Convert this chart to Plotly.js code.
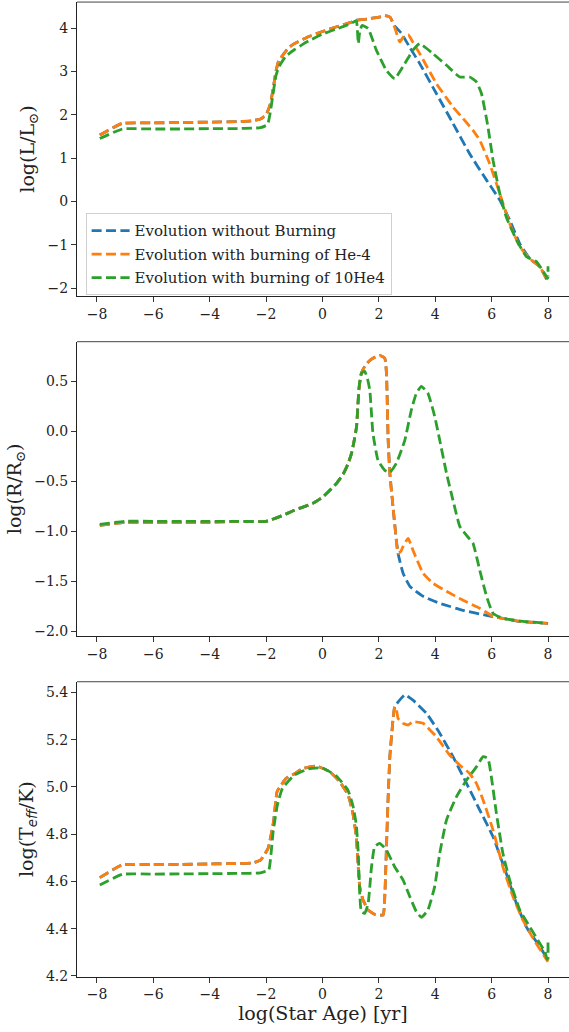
<!DOCTYPE html>
<html><head><meta charset="utf-8">
<script src="https://cdn.plot.ly/plotly-3.0.1.min.js"></script>
<style>html,body{margin:0;padding:0;background:#fff}#chart{width:569px;height:1032px}</style>
</head><body><div id="chart"></div>
<script>
// ---------- data ----------
const seriesNames = ["Evolution without Burning", "Evolution with burning of He-4", "Evolution with burning of 10He4"];
const seriesColors = ["#1f77b4", "#ff7f0e", "#2ca02c"];

// Panel 1: log(L/Lsun)
const lumAgeBlue = [-7.9,-7.1,-6,-5,-4,-3,-2.5,-2.2,-2.0,-1.85,-1.75,-1.65,-1.55,-1.4,-1.2,-1.0,-0.5,0,0.5,1.0,1.2,1.6,2.0,2.21,2.4,2.56,2.8,3.1,3.45,4.04,4.63,5.22,5.82,6.29,6.64,7.0,7.35,7.71,8.0];
const lumBlue    = [1.53,1.80,1.81,1.82,1.83,1.84,1.86,1.90,2.00,2.25,2.60,3.00,3.25,3.38,3.55,3.64,3.80,3.92,4.03,4.13,4.18,4.21,4.25,4.29,4.25,4.05,3.88,3.55,3.18,2.49,1.80,1.10,0.49,0.03,-0.43,-0.98,-1.32,-1.51,-1.86];
const lumAgeOrange = [-7.9,-7.1,-6,-5,-4,-3,-2.5,-2.2,-2.0,-1.85,-1.75,-1.65,-1.55,-1.4,-1.2,-1.0,-0.5,0,0.5,1.0,1.2,1.6,2.0,2.21,2.4,2.56,2.74,2.9,3.05,3.2,3.45,4.04,4.63,4.99,5.34,5.58,5.93,6.29,6.64,7.0,7.35,7.71,8.0];
const lumOrange    = [1.53,1.80,1.81,1.82,1.83,1.84,1.86,1.90,2.00,2.25,2.60,3.00,3.25,3.38,3.55,3.64,3.80,3.92,4.03,4.13,4.18,4.21,4.25,4.29,4.25,4.02,3.68,3.82,3.84,3.68,3.41,2.72,2.18,1.91,1.64,1.41,0.87,0.18,-0.51,-1.05,-1.32,-1.51,-1.86];
const lumAgeGreen = [-7.9,-7.1,-6,-5,-4,-3,-2.5,-2.2,-1.95,-1.86,-1.76,-1.65,-1.55,-1.3,-1.0,-0.5,0,0.5,1.0,1.2,1.24,1.27,1.32,1.4,1.62,1.91,2.27,2.56,2.92,3.21,3.45,3.92,4.4,4.87,5.22,5.46,5.64,5.87,6.05,6.29,6.52,6.88,7.24,7.59,7.83,7.94,7.98,8.0,8.0,8.0];
const lumGreen    = [1.45,1.67,1.67,1.67,1.68,1.68,1.69,1.70,1.77,2.02,2.45,2.9,3.1,3.35,3.5,3.7,3.86,3.98,4.1,4.17,3.95,3.64,3.9,4.06,3.99,3.49,3.02,2.83,3.18,3.49,3.64,3.41,3.14,2.87,2.87,2.76,2.49,1.72,0.95,0.18,-0.36,-0.89,-1.28,-1.39,-1.62,-1.73,-1.78,-1.74,-1.50,-1.72];

// Panel 2: log(R/Rsun)
const radAgeBlue = [-7.9,-7.0,-6,-5,-4,-3,-2.0,-1.4,-1.0,-0.34,0,0.26,0.5,0.73,0.9,1.03,1.12,1.21,1.29,1.38,1.5,1.65,1.79,2.03,2.21,2.27,2.33,2.39,2.5,2.62,2.68,2.86,3.1,3.57,4.16,4.99,5.82,6.17,7.0,8.0];
const radBlue    = [-0.94,-0.91,-0.91,-0.91,-0.91,-0.90,-0.90,-0.84,-0.79,-0.72,-0.66,-0.59,-0.52,-0.43,-0.33,-0.22,-0.1,0.05,0.41,0.58,0.65,0.70,0.73,0.76,0.73,0.58,-0.09,-0.42,-0.75,-1.09,-1.22,-1.42,-1.55,-1.65,-1.72,-1.79,-1.84,-1.86,-1.90,-1.92];
const radAgeOrange = [-7.9,-7.0,-6,-5,-4,-3,-2.0,-1.4,-1.0,-0.34,0,0.26,0.5,0.73,0.9,1.03,1.12,1.21,1.29,1.38,1.5,1.65,1.79,2.03,2.21,2.27,2.33,2.39,2.5,2.62,2.68,2.78,2.86,3.04,3.21,3.57,3.92,4.4,4.99,5.58,6.05,6.4,7.0,8.0];
const radOrange    = [-0.94,-0.91,-0.91,-0.91,-0.91,-0.90,-0.90,-0.84,-0.79,-0.72,-0.66,-0.59,-0.52,-0.43,-0.33,-0.22,-0.1,0.05,0.41,0.58,0.65,0.70,0.73,0.76,0.73,0.58,-0.09,-0.42,-0.75,-1.09,-1.22,-1.20,-1.15,-1.07,-1.19,-1.42,-1.52,-1.60,-1.69,-1.77,-1.85,-1.87,-1.90,-1.92];
const radAgeGreen = [-7.9,-7.0,-6,-5,-4,-3,-2.0,-1.4,-1.0,-0.34,0,0.26,0.5,0.73,0.9,1.03,1.12,1.21,1.3,1.38,1.5,1.6,1.68,1.79,1.97,2.21,2.39,2.62,2.92,3.15,3.33,3.51,3.74,3.98,4.16,4.4,4.63,4.87,5.11,5.34,5.58,5.82,6.05,6.4,7.11,8.0];
const radGreen    = [-0.93,-0.90,-0.90,-0.90,-0.90,-0.90,-0.90,-0.84,-0.79,-0.72,-0.66,-0.59,-0.52,-0.43,-0.33,-0.22,-0.1,0.05,0.45,0.58,0.60,0.52,0.41,-0.02,-0.29,-0.39,-0.41,-0.32,-0.09,0.21,0.38,0.45,0.38,0.15,-0.09,-0.42,-0.69,-0.95,-1.04,-1.12,-1.39,-1.65,-1.82,-1.87,-1.90,-1.92];

// Panel 3: log(Teff/K)
const tefAgeBlue = [-7.9,-7.1,-6,-5,-4,-3,-2.5,-2.2,-1.93,-1.74,-1.61,-1.45,-1.29,-1.0,-0.69,-0.21,0.26,0.61,0.91,1.08,1.2,1.26,1.32,1.44,1.62,1.85,2.15,2.21,2.27,2.33,2.39,2.5,2.56,2.62,2.92,3.21,3.69,4.16,4.63,5.11,5.58,6.05,6.52,6.88,7.23,7.71,8.0];
const tefBlue    = [4.616,4.67,4.671,4.672,4.674,4.676,4.678,4.69,4.74,4.85,4.98,5.01,5.036,5.055,5.078,5.088,5.064,5.022,4.966,4.888,4.789,4.677,4.578,4.521,4.479,4.461,4.458,4.535,4.747,4.958,5.128,5.283,5.339,5.35,5.389,5.367,5.311,5.227,5.128,5.015,4.902,4.789,4.634,4.507,4.408,4.324,4.267];
const tefAgeOrange = [-7.9,-7.1,-6,-5,-4,-3,-2.5,-2.2,-1.93,-1.74,-1.61,-1.45,-1.29,-1.0,-0.69,-0.21,0.26,0.61,0.91,1.08,1.2,1.26,1.32,1.44,1.62,1.85,2.15,2.21,2.27,2.33,2.39,2.5,2.56,2.62,2.68,2.86,3.04,3.21,3.57,4.04,4.51,4.87,5.22,5.46,5.7,6.05,6.4,6.76,7.11,7.47,8.0];
const tefOrange    = [4.616,4.67,4.671,4.672,4.674,4.676,4.678,4.69,4.74,4.85,4.98,5.01,5.036,5.055,5.078,5.088,5.064,5.022,4.966,4.888,4.789,4.677,4.578,4.521,4.479,4.461,4.458,4.535,4.747,4.958,5.128,5.283,5.339,5.33,5.29,5.269,5.262,5.276,5.269,5.212,5.135,5.092,5.057,5.015,4.944,4.818,4.662,4.535,4.437,4.359,4.26];
const tefAgeGreen = [-7.9,-7.1,-6,-5,-4,-3,-2.2,-2.0,-1.9,-1.75,-1.6,-1.42,-1.0,-0.5,0,0.5,0.9,1.08,1.2,1.27,1.32,1.38,1.5,1.62,1.74,1.85,2.03,2.27,2.56,2.86,3.1,3.33,3.51,3.74,3.98,4.16,4.4,4.75,5.11,5.46,5.7,5.87,5.99,6.17,6.4,6.64,7.0,7.35,7.71,7.89,7.97,8.0,8.0,8.0];
const tefGreen    = [4.585,4.63,4.631,4.632,4.633,4.634,4.636,4.644,4.65,4.81,4.923,4.994,5.05,5.076,5.08,5.045,4.987,4.92,4.84,4.72,4.55,4.472,4.465,4.507,4.662,4.747,4.761,4.733,4.662,4.606,4.535,4.472,4.448,4.479,4.578,4.719,4.86,4.958,5.029,5.085,5.128,5.12,5.043,4.888,4.719,4.606,4.479,4.409,4.338,4.303,4.27,4.28,4.35,4.27];

const xTickVals = [-8,-6,-4,-2,0,2,4,6,8];

// ---------- figure ----------
const FONT = "DejaVu Serif, serif";
const panels = [
  {xa:'x',  ya:'y',  data:[[lumAgeBlue,lumBlue],[lumAgeOrange,lumOrange],[lumAgeGreen,lumGreen]]},
  {xa:'x2', ya:'y2', data:[[radAgeBlue,radBlue],[radAgeOrange,radOrange],[radAgeGreen,radGreen]]},
  {xa:'x3', ya:'y3', data:[[tefAgeBlue,tefBlue],[tefAgeOrange,tefOrange],[tefAgeGreen,tefGreen]]}
];
const traces = [];
panels.forEach((p, pi) => {
  p.data.forEach((d, si) => {
    traces.push({
      type:'scatter', mode:'lines', x:d[0], y:d[1], xaxis:p.xa, yaxis:p.ya,
      name: seriesNames[si], legendgroup:'g'+si, showlegend: pi === 0,
      line:{color:seriesColors[si], width:2.8, dash:'10px,4.4px', shape:'spline', smoothing:0.4}
    });
  });
});

const xRange = [-8.708, 8.745];
function xAxis(anchor, title) {
  const a = {
    anchor: anchor, domain:[0,1], range:xRange, tickmode:'array', tickvals:xTickVals,
    ticks:'outside', ticklen:5, tickwidth:1, tickcolor:'#333',
    showline:true, linecolor:'#222', linewidth:1, mirror:false,
    showgrid:false, zeroline:false, tickfont:{family:FONT, size:14, color:'#222'}
  };
  if (title) a.title = {text:title, font:{family:FONT, size:19, color:'#222'}, standoff:4};
  return a;
}
function yAxis(anchor, domain, range, dtick, fmt, title) {
  return {
    anchor: anchor, domain: domain, range: range, dtick: dtick, tick0: 0, tickformat: fmt,
    ticks:'outside', ticklen:5, tickwidth:1, tickcolor:'#333',
    showline:true, linecolor:'#222', linewidth:1, mirror:false,
    showgrid:false, zeroline:false, tickfont:{family:FONT, size:14, color:'#222'},
    title:{text:title, font:{family:FONT, size:19, color:'#222'}, standoff:7}
  };
}

const layout = {
  width:569, height:1032,
  margin:{l:77, r:0, t:0, b:0},
  paper_bgcolor:'#ffffff', plot_bgcolor:'#ffffff',
  font:{family:FONT, size:14, color:'#222'},
  showlegend:true,
  legend:{x:0.0175, y:0.7933, xanchor:'left', yanchor:'top',
    bgcolor:'rgba(255,255,255,0.8)', bordercolor:'#d0d0d0', borderwidth:1,
    font:{family:FONT, size:15, color:'#222'}, tracegroupgap:1, traceorder:'grouped', itemwidth:38},
  xaxis: xAxis('y'),
  xaxis2: xAxis('y2'),
  xaxis3: xAxis('y3', 'log(Star Age) [yr]'),
  yaxis: yAxis('x', [0.7132, 0.998], [-2.184, 4.6], 1, '', 'log(L/L<sub>⊙</sub>)'),
  yaxis2: yAxis('x2', [0.3837, 0.6689], [-2.047, 0.896], 0.5, '.1f', 'log(R/R<sub>⊙</sub>)'),
  yaxis3: yAxis('x3', [0.0536, 0.3394], [4.197, 5.445], 0.2, '.1f', 'log(T<sub><span style="font-family:DejaVu Sans"><i>eff</i></span></sub>/K)'),
  shapes: [
    {type:'line', xref:'x domain', yref:'y domain', x0:0, x1:1, y0:1, y1:1, line:{color:'#444', width:1}},
    {type:'line', xref:'x2 domain', yref:'y2 domain', x0:0, x1:1, y0:1, y1:1, line:{color:'#444', width:1}},
    {type:'line', xref:'x3 domain', yref:'y3 domain', x0:0, x1:1, y0:1, y1:1, line:{color:'#444', width:1}}
  ]
};

Plotly.newPlot('chart', traces, layout, {displayModeBar:false, staticPlot:true});
</script></body></html>
